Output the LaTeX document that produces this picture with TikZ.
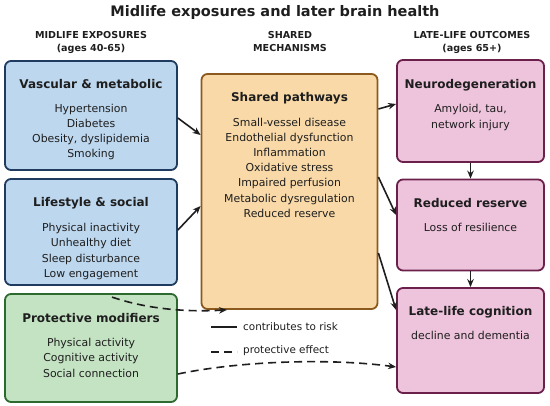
\documentclass[tikz,border=0pt]{standalone}
\usepackage{fontspec}
\setmainfont{DejaVu Sans}
\usetikzlibrary{arrows.meta}
\definecolor{bluefill}{HTML}{BDD7EE}
\definecolor{blueline}{HTML}{1F3B60}
\definecolor{greenfill}{HTML}{C4E3C3}
\definecolor{greenline}{HTML}{2D6A30}
\definecolor{orangefill}{HTML}{F9D9A8}
\definecolor{orangeline}{HTML}{8C5A1E}
\definecolor{pinkfill}{HTML}{EEC3DC}
\definecolor{pinkline}{HTML}{6B1F4B}
\definecolor{txt}{HTML}{1E1E1E}
\tikzset{
  boxbase/.style={draw, line width=1.8pt, rounded corners=6pt, inner sep=0pt, anchor=center},
  bluebox/.style={boxbase, fill=bluefill, draw=blueline},
  greenbox/.style={boxbase, fill=greenfill, draw=greenline},
  orangebox/.style={boxbase, fill=orangefill, draw=orangeline},
  pinkbox/.style={boxbase, fill=pinkfill, draw=pinkline},
  titletext/.style={font=\fontsize{14.5}{17}\selectfont\bfseries, inner sep=0pt, anchor=base, text=txt},
  headtext/.style={font=\fontsize{9.6}{12.5}\selectfont\bfseries, align=center, inner sep=0pt, anchor=north, text=txt},
  boxtitle/.style={font=\fontsize{12}{14}\selectfont\bfseries, inner sep=0pt, anchor=base, text=txt},
  bodytext/.style={font=\fontsize{10.9}{15.2}\selectfont, align=center, inner sep=0pt, anchor=north, text=txt},
  legtext/.style={font=\fontsize{10.4}{12}\selectfont, inner sep=0pt, anchor=west, text=txt},
  arr/.style={line width=1.6pt, draw=txt, -{Stealth[length=8pt,width=6.5pt]}},
  darr/.style={arr, dash pattern=on 8pt off 5pt},
}
\begin{document}
\begin{tikzpicture}[x=1pt,y=-1pt]
\useasboundingbox (0,0) rectangle (550,406);
% title and headers
\node[titletext] (title) at (275,17) {Midlife exposures and later brain health};
\node[headtext] (h1) at (91,31.5) {MIDLIFE EXPOSURES\\(ages 40-65)};
\node[headtext] (h2) at (290,31.5) {SHARED\\MECHANISMS};
\node[headtext] (h3) at (472,31.5) {LATE-LIFE OUTCOMES\\(ages 65+)};
% boxes
\node[bluebox, minimum width=172pt, minimum height=109pt] (vasc) at (91,115.5) {};
\node[bluebox, minimum width=172pt, minimum height=106pt] (life) at (91,232) {};
\node[greenbox, minimum width=172pt, minimum height=108pt] (prot) at (91,348) {};
\node[orangebox, minimum width=176pt, minimum height=235pt] (shared) at (289.5,191.5) {};
\node[pinkbox, minimum width=147pt, minimum height=102pt] (neuro) at (470.5,111) {};
\node[pinkbox, minimum width=147pt, minimum height=91pt] (reduced) at (470.5,225) {};
\node[pinkbox, minimum width=147pt, minimum height=105pt] (late) at (470.5,340.5) {};
% box texts
\node[boxtitle] (vascT) at (91,88.3) {Vascular \& metabolic};
\node[bodytext] (vascB) at (91,103.6) {Hypertension\\Diabetes\\Obesity, dyslipidemia\\Smoking};
\node[boxtitle] (lifeT) at (91,207) {Lifestyle \& social};
\node[bodytext] (lifeB) at (91,223.2) {Physical inactivity\\Unhealthy diet\\Sleep disturbance\\Low engagement};
\node[boxtitle] (protT) at (91,322.6) {Protective modifiers};
\node[bodytext] (protB) at (91,338.2) {Physical activity\\Cognitive activity\\Social connection};
\node[boxtitle] (sharedT) at (289.5,102) {Shared pathways};
\node[bodytext] (sharedB) at (289.5,117.6) {Small-vessel disease\\Endothelial dysfunction\\Inflammation\\Oxidative stress\\Impaired perfusion\\Metabolic dysregulation\\Reduced reserve};
\node[boxtitle] (neuroT) at (470.5,88.6) {Neurodegeneration};
\node[bodytext, font=\fontsize{10.9}{16}\selectfont] (neuroB) at (470.5,104.2) {Amyloid, tau,\\network injury};
\node[boxtitle] (reducedT) at (470.5,207.6) {Reduced reserve};
\node[bodytext] (reducedB) at (470.5,222.6) {Loss of resilience};
\node[boxtitle] (lateT) at (470.5,316) {Late-life cognition};
\node[bodytext] (lateB) at (470.5,330.9) {decline and dementia};
% solid arrows
\draw[arr] (vasc.east |- 0,118) -- (shared.west |- 0,135);
\draw[arr] (life.east |- 0,230) -- (shared.west |- 0,206);
\draw[arr] (shared.east |- 0,109) -- (neuro.west |- 0,104);
\draw[arr] (shared.east |- 0,177) -- (reduced.west |- 0,215);
\draw[arr] (shared.east |- 0,253) -- (late.west |- 0,310);
\draw[arr] (neuro.south) -- (reduced.north);
\draw[arr] (reduced.south) -- (late.north);
% dashed arrows
\draw[darr] ([xshift=21pt,yshift=-4pt]prot.north) .. controls (150,310) and (190,312) .. (shared.south -| 227,0);
\draw[darr] (prot.east |- 0,374) .. controls (240,361) and (330,358) .. (late.west |- 0,367);
% legend
\coordinate (l1a) at (211,327);
\coordinate (l1b) at (237,327);
\coordinate (l2a) at (211,352);
\coordinate (l2b) at (237,352);
\draw[line width=1.6pt, draw=txt] (l1a) -- (l1b);
\draw[line width=1.6pt, draw=txt, dash pattern=on 8pt off 5pt] (l2a) -- (l2b);
\node[legtext] (leg1) at (243,327) {contributes to risk};
\node[legtext] (leg2) at (243,351) {protective effect};
\end{tikzpicture}
\end{document}
